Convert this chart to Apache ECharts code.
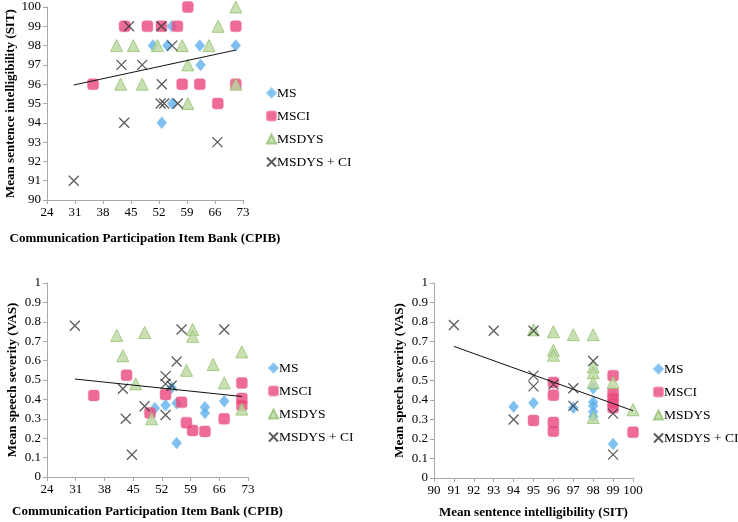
<!DOCTYPE html>
<html><head><meta charset="utf-8">
<script src="https://cdn.jsdelivr.net/npm/echarts@6/dist/echarts.min.js"></script>
<style>html,body{margin:0;padding:0;background:#fff}#c{width:738px;height:522px}</style>
</head><body><div id="c"></div>
<script>
const seriesNames = ['MS', 'MSCI', 'MSDYS', 'MSDYS + CI'];

// Axis ranges [min, max, interval]
const cpibRange = [24, 73, 7];
const sitRange = [90, 100, 1];
const vasRange = [0, 1, 0.1];

// Panel 1: CPIB (x) vs SIT (y)
const p1_MS = [[50.5,98],[54.1,98],[55.2,99],[62.2,98],[62.4,97],[71.2,98],[55.3,95],[52.7,94]];
const p1_MSCI = [[35.5,96],[43.4,99],[49.1,99],[52.6,99],[56.6,99],[59.2,100],[57.8,96],[62.2,96],[66.7,95],[71.2,99],[71.2,96]];
const p1_MSDYS = [[41.4,98],[45.6,98],[42.4,96],[47.8,96],[51.6,98],[57.8,98],[64.5,98],[66.8,99],[71.2,100],[71.2,96],[59.2,97],[59.2,95]];
const p1_MSDYSCI = [[30.7,91],[44.5,99],[52.6,99],[42.6,97],[47.8,97],[43.3,94],[55.3,98],[52.7,96],[52.4,95],[53.3,95],[56.7,95],[66.6,93]];
const p1_trend = [[30.7,95.96],[71.2,97.77]];

// Panel 2: CPIB (x) vs VAS (y)
const p2_MS = [[50.3,0.355],[52.9,0.37],[54.4,0.46],[55.6,0.38],[55.6,0.175],[62.5,0.36],[62.5,0.33],[67.2,0.39]];
const p2_MSCI = [[35.4,0.42],[43.4,0.525],[49.1,0.33],[52.9,0.425],[56.8,0.385],[58.0,0.28],[59.5,0.24],[62.5,0.235],[67.2,0.30],[71.5,0.485],[71.5,0.405],[71.5,0.37]];
const p2_MSDYS = [[41.0,0.73],[42.5,0.625],[45.6,0.48],[47.8,0.745],[49.5,0.30],[58.0,0.55],[59.5,0.76],[59.5,0.725],[64.5,0.58],[67.2,0.485],[71.5,0.645],[71.5,0.35]];
const p2_MSDYSCI = [[30.8,0.78],[42.5,0.455],[43.2,0.30],[44.7,0.115],[47.8,0.365],[52.9,0.52],[52.9,0.48],[52.9,0.32],[54.4,0.47],[55.6,0.595],[56.8,0.76],[67.2,0.76]];
const p2_trend = [[30.8,0.505],[71.5,0.415]];

// Panel 3: SIT (x) vs VAS (y)
const p3_MS = [[94,0.365],[95,0.385],[97,0.36],[98,0.46],[98,0.39],[98,0.37],[98,0.34],[98,0.315],[99,0.175]];
const p3_MSCI = [[95,0.295],[96,0.49],[96,0.425],[96,0.285],[96,0.24],[99,0.525],[99,0.435],[99,0.41],[99,0.385],[99,0.36],[100,0.235]];
const p3_MSDYS = [[95,0.76],[96,0.75],[96,0.655],[96,0.63],[97,0.735],[98,0.735],[98,0.57],[98,0.54],[98,0.49],[98,0.31],[99,0.49],[100,0.35]];
const p3_MSDYSCI = [[91,0.785],[93,0.755],[95,0.755],[94,0.30],[95,0.525],[95,0.47],[96,0.48],[97,0.46],[97,0.37],[98,0.60],[99,0.33],[99,0.12]];
const p3_trend = [[91,0.675],[100,0.345]];

const SERIF = '"Liberation Serif","Times New Roman",serif';
const AXIS_COLOR = '#a8a8a8';

const styles = [
  {symbol: 'diamond', symbolSize: [10, 12], itemStyle: {color: '#5fb0ee', borderColor: '#8cc6f2', borderWidth: 0.6}},
  {symbol: 'roundRect', symbolSize: 11, itemStyle: {color: '#e8467a', borderColor: '#f07a9c', borderWidth: 0.6}},
  {symbol: 'triangle', symbolSize: 12, itemStyle: {color: '#bcd8a0', borderColor: '#95c072', borderWidth: 1}},
  {symbol: 'path://M0,0L10,10M10,0L0,10', symbolSize: 10, itemStyle: {color: 'rgba(0,0,0,0)', borderColor: '#333', borderWidth: 1.3}}
];

function valAxis(gridIndex, range, name, gap) {
  return {
    type: 'value', gridIndex: gridIndex, min: range[0], max: range[1], interval: range[2],
    name: name, nameLocation: 'middle', nameGap: gap,
    nameTextStyle: {fontFamily: SERIF, fontWeight: 'bold', fontSize: 13, color: '#000'},
    axisLine: {show: true, onZero: false, lineStyle: {color: AXIS_COLOR, width: 1}},
    axisTick: {show: true, length: 4, lineStyle: {color: AXIS_COLOR}},
    axisLabel: {fontFamily: SERIF, fontSize: 13, color: '#000', margin: 6},
    splitLine: {show: false}
  };
}

const panels = [
  [p1_MS, p1_MSCI, p1_MSDYS, p1_MSDYSCI, p1_trend],
  [p2_MS, p2_MSCI, p2_MSDYS, p2_MSDYSCI, p2_trend],
  [p3_MS, p3_MSCI, p3_MSDYS, p3_MSDYSCI, p3_trend]
];

const series = [];
panels.forEach(function (p, gi) {
  for (let k = 0; k < 4; k++) {
    series.push(Object.assign({
      type: 'scatter', name: seriesNames[k], xAxisIndex: gi, yAxisIndex: gi,
      data: p[k], z: 2 + k
    }, JSON.parse(JSON.stringify(styles[k]))));
  }
  series.push({
    type: 'line', name: 'trend' + gi, xAxisIndex: gi, yAxisIndex: gi, data: p[4],
    showSymbol: false, symbol: 'none', silent: true, z: 10,
    lineStyle: {color: '#111', width: 1}
  });
});

function legend(left, top) {
  return {
    data: seriesNames, orient: 'vertical', left: left, top: top,
    itemWidth: 9, itemHeight: 9, itemGap: 9,
    textStyle: {fontFamily: SERIF, fontSize: 13.5, color: '#000', padding: [0, 0, 0, -4]},
    selectedMode: false
  };
}

const option = {
  animation: false,
  backgroundColor: '#fff',
  grid: [
    {left: 47, top: 7, width: 196, height: 193},
    {left: 47, top: 283, width: 201, height: 194},
    {left: 434, top: 283, width: 199, height: 195}
  ],
  xAxis: [
    valAxis(0, cpibRange, 'Communication Participation Item Bank (CPIB)', 32),
    valAxis(1, cpibRange, 'Communication Participation Item Bank (CPIB)', 28),
    valAxis(2, sitRange, 'Mean sentence intelligibility (SIT)', 28)
  ],
  yAxis: [
    valAxis(0, sitRange, 'Mean sentence intelligibility (SIT)', 30),
    valAxis(1, vasRange, 'Mean speech severity (VAS)', 28),
    valAxis(2, vasRange, 'Mean speech severity (VAS)', 28)
  ],
  legend: [legend(261, 81), legend(263, 356), legend(648, 357)],
  series: series
};

const chart = echarts.init(document.getElementById('c'), null, {renderer: 'canvas'});
chart.setOption(option);
</script>
</body></html>
